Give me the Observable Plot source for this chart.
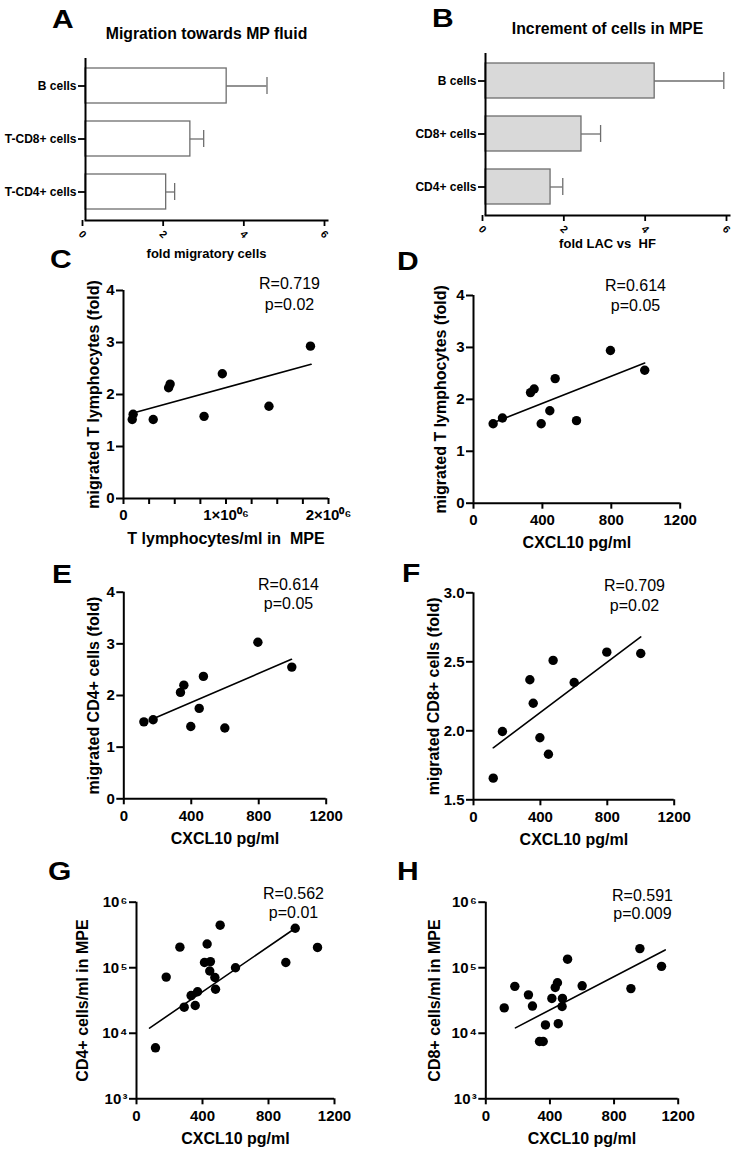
<!DOCTYPE html>
<html>
<head>
<meta charset="utf-8">
<script src="https://cdn.jsdelivr.net/npm/d3@7"></script>
<script src="https://cdn.jsdelivr.net/npm/@observablehq/plot@0.6"></script>
<style>
  body { margin: 0; background: white; }
  #fig { position: relative; width: 734px; height: 1149px; font-family: "Liberation Sans", Arial, sans-serif; }
  .panel { position: absolute; }
  .letter { position: absolute; font-size: 25px; line-height: 25px; font-weight: bold; transform: scaleX(1.2); transform-origin: left top; }
</style>
</head>
<body>
<div id="fig"></div>
<script>
// bar panels (A, B): mean and SEM
const cellsA = ["B cells", "T-CD8+ cells", "T-CD4+ cells"];
const meanA = [3.5, 2.6, 2.0];
const errA = [1.0, 0.33, 0.21];
const cellsB = ["B cells", "CD8+ cells", "CD4+ cells"];
const meanB = [4.16, 2.36, 1.6];
const errB = [1.7, 0.47, 0.3];
const barTicks = [0, 2, 4, 6];

// C: T lymphocytes/ml vs migrated T lymphocytes
const tcellsC = [85000, 94000, 290000, 440000, 455000, 786000, 964000, 1419000, 1824000];
const migTC = [1.52, 1.62, 1.52, 2.13, 2.2, 1.58, 2.40, 1.775, 2.93];
const fitXC = [85000, 1830000];
const fitYC = [1.64, 2.58];
const ticksC = [0, 250000, 500000, 750000, 1000000, 1250000, 1500000, 1750000, 2000000];
const tickLabelsC = {0: "0", 1000000: "1×10⁰⁶", 2000000: "2×10⁰⁶"};

// D: CXCL10 vs migrated T lymphocytes
const cxclD = [114, 168, 331, 352, 474, 393, 443, 598, 795, 994];
const migTD = [1.53, 1.64, 2.13, 2.20, 2.40, 1.53, 1.78, 1.59, 2.94, 2.56];
const fitXD = [114, 994];
const fitYD = [1.55, 2.70];

// E: CXCL10 vs migrated CD4+
const cxclE = [119, 174, 336, 356, 472, 447, 397, 599, 795, 996];
const migCD4E = [1.49, 1.53, 2.06, 2.20, 2.37, 1.75, 1.40, 1.37, 3.03, 2.55];
const fitXE = [174, 994];
const fitYE = [1.55, 2.70];

// F: CXCL10 vs migrated CD8+
const cxclF = [118, 173, 337, 357, 476, 397, 448, 602, 797, 1000];
const migCD8F = [1.657, 1.995, 2.37, 2.20, 2.51, 1.95, 1.83, 2.35, 2.57, 2.56];
const fitXF = [118, 1000];
const fitYF = [1.877, 2.68];

// G: CXCL10 vs CD4+ cells/ml
const cxclG = [115, 180, 263, 289, 331, 356, 370, 412, 428, 448, 444, 475, 479, 507, 600, 905, 962, 1097];
const cd4G = [6.0e3, 7.2e4, 2.06e5, 2.5e4, 3.76e4, 2.65e4, 4.3e4, 1.2e5, 2.3e5, 1.24e5, 8.9e4, 7.1e4, 4.7e4, 4.46e5, 1.0e5, 1.2e5, 4.0e5, 2.04e5];
const fitXG = [79, 962];
const fitYG = [1.2e4, 4.0e5];

// H: CXCL10 vs CD8+ cells/ml
const cxclH = [115, 181, 266, 291, 335, 358, 372, 412, 433, 447, 452, 478, 476, 510, 601, 905, 961, 1096];
const cd8H = [2.44e4, 5.2e4, 3.86e4, 2.6e4, 7.5e3, 7.5e3, 1.34e4, 3.4e4, 5.0e4, 5.9e4, 1.4e4, 3.4e4, 2.56e4, 1.35e5, 5.3e4, 4.8e4, 1.96e5, 1.05e5];
const fitXH = [185, 1119];
const fitYH = [1.21e4, 1.87e5];

const cxclTicks = [0, 400, 800, 1200];
const foldTicks = [0, 1, 2, 3, 4];
const cd8FoldTicks = [1.5, 2.0, 2.5, 3.0];
const logTicks = [1e3, 1e4, 1e5, 1e6];
const logTickLabels = ["10\u200a³", "10\u200a⁴", "10\u200a⁵", "10\u200a⁶"];

const font = "Liberation Sans, Arial, sans-serif";
const fig = document.getElementById("fig");

function place(chart, left, top) {
  const div = document.createElement("div");
  div.className = "panel";
  div.style.left = left + "px";
  div.style.top = top + "px";
  div.append(chart);
  fig.append(div);
}

function letter(txt, left, baseline) {
  const div = document.createElement("div");
  div.className = "letter";
  div.textContent = txt;
  div.style.left = left + "px";
  div.style.top = (baseline - 21) + "px";
  fig.append(div);
}

function margins(p) {
  return {
    width: p.width, height: p.height,
    marginLeft: p.frame[0] - p.left,
    marginRight: p.left + p.width - p.frame[1],
    marginTop: p.frame[2] - p.top,
    marginBottom: p.top + p.height - p.frame[3]
  };
}

function barPanel(p) {
  const rows = p.cats.map((c, i) => ({cat: c, mean: p.means[i], upper: p.means[i] + p.errs[i]}));
  return Plot.plot({
    ...margins(p),
    style: {fontFamily: font, background: "transparent", overflow: "visible", color: "black"},
    x: {domain: [0, 6]},
    y: {domain: p.cats, paddingInner: 0.333, paddingOuter: 0.167},
    marks: [
      Plot.barX(rows, {x: "mean", y: "cat", fill: p.fill, stroke: "#6e6e6e", strokeWidth: 1.3}),
      Plot.ruleY(rows, {x1: "mean", x2: "upper", y: "cat", stroke: "#6e6e6e", strokeWidth: 1.3}),
      Plot.tickX(rows, {x: "upper", y: "cat", stroke: "#6e6e6e", strokeWidth: 1.3, insetTop: 9, insetBottom: 9}),
      Plot.ruleX([0], {strokeWidth: 2}),
      Plot.frame({anchor: "bottom", strokeWidth: 2}),
      Plot.axisY({tickSize: 7, tickPadding: 2, fontSize: 12, fontWeight: "bold", strokeWidth: 1.8, label: null}),
      Plot.axisX({ticks: barTicks, tickFormat: d => String(d), tickSize: 6, tickRotate: 45, textAnchor: "middle",
        lineAnchor: "middle", tickPadding: 8, dx: -3, fontSize: 10.5, fontWeight: "bold", strokeWidth: 1.8, label: null}),
      Plot.text([p.title], {text: d => d, frameAnchor: "top", dy: -25, lineAnchor: "middle", fontSize: 15.8, fontWeight: "bold"}),
      Plot.text([p.xLabel], {text: d => d, frameAnchor: "bottom", dy: p.labelDy, lineAnchor: "middle", fontSize: 13, fontWeight: "bold"})
    ]
  });
}

function scatterPanel(p) {
  const pts = p.xs.map((x, i) => ({x, y: p.ys[i]}));
  const fit = p.fitX.map((x, i) => ({x, y: p.fitY[i]}));
  const [x0, , y0] = p.frame;
  return Plot.plot({
    ...margins(p),
    style: {fontFamily: font, background: "transparent", overflow: "visible", color: "black"},
    x: {domain: p.xDomain},
    y: {type: p.yType || "linear", domain: p.yDomain},
    marks: [
      Plot.ruleX([p.xDomain[0]], {strokeWidth: 2}),
      Plot.ruleY([p.yDomain[0]], {strokeWidth: 2}),
      Plot.axisX({ticks: p.xTicks, tickFormat: p.xFormat, tickSize: 6, tickPadding: 11, lineAnchor: "middle",
        fontSize: 15, fontWeight: "bold", strokeWidth: 2, label: null}),
      Plot.axisY({ticks: p.yTicks, tickFormat: p.yFormat, tickSize: 7, tickPadding: 2,
        fontSize: 15, fontWeight: "bold", strokeWidth: 2, label: null}),
      Plot.line(fit, {x: "x", y: "y", strokeWidth: 1.6}),
      Plot.dot(pts, {x: "x", y: "y", r: 4.7, fill: "black"}),
      Plot.text([p.stat[0]], {text: d => d, frameAnchor: "top-left", dx: p.statX - x0, dy: p.statY[0] - y0,
        textAnchor: "middle", lineAnchor: "middle", fontSize: 16}),
      Plot.text([p.stat[1]], {text: d => d, frameAnchor: "top-left", dx: p.statX - x0, dy: p.statY[1] - y0,
        textAnchor: "middle", lineAnchor: "middle", fontSize: 16}),
      Plot.text([p.xLabel], {text: d => d, frameAnchor: "bottom", dy: 40, lineAnchor: "middle", fontSize: 16, fontWeight: "bold"}),
      Plot.text([p.yLabel], {text: d => d, frameAnchor: "left", dx: p.yLabelX - x0, rotate: -90,
        textAnchor: "middle", lineAnchor: "middle", fontSize: 16, fontWeight: "bold"})
    ]
  });
}

const cxclFmt = d => String(d);
const foldFmt = d => String(d);
const logFmt = d => logTickLabels[logTicks.indexOf(d)];

place(barPanel({left: 0, top: 0, width: 367, height: 265, frame: [85, 327, 58, 220],
  cats: cellsA, means: meanA, errs: errA, fill: "white",
  title: "Migration towards MP fluid", xLabel: "fold migratory cells", labelDy: 33}), 0, 0);
place(barPanel({left: 367, top: 0, width: 367, height: 265, frame: [485, 729, 53, 215],
  cats: cellsB, means: meanB, errs: errB, fill: "#d9d9d9",
  title: "Increment of cells in MPE", xLabel: "fold LAC vs\u00a0 HF", labelDy: 28}), 367, 0);

place(scatterPanel({left: 0, top: 265, width: 367, height: 285, frame: [123, 328, 290, 498],
  xs: tcellsC, ys: migTC, fitX: fitXC, fitY: fitYC, xDomain: [0, 2000000], yDomain: [0, 4],
  xTicks: ticksC, xFormat: d => tickLabelsC[d] ?? "", yTicks: foldTicks, yFormat: foldFmt,
  stat: ["R=0.719", "p=0.02"], statX: 289, statY: [283, 304], yLabelX: 93,
  xLabel: "T lymphocytes/ml in\u00a0 MPE", yLabel: "migrated T lymphocytes (fold)"}), 0, 265);

place(scatterPanel({left: 367, top: 265, width: 367, height: 285, frame: [473, 679.7, 295, 502.7],
  xs: cxclD, ys: migTD, fitX: fitXD, fitY: fitYD, xDomain: [0, 1200], yDomain: [0, 4],
  xTicks: cxclTicks, xFormat: cxclFmt, yTicks: foldTicks, yFormat: foldFmt,
  stat: ["R=0.614", "p=0.05"], statX: 635, statY: [285, 305], yLabelX: 440,
  xLabel: "CXCL10 pg/ml", yLabel: "migrated T lymphocytes (fold)"}), 367, 265);

place(scatterPanel({left: 0, top: 560, width: 367, height: 290, frame: [123.3, 325.7, 591.7, 798.3],
  xs: cxclE, ys: migCD4E, fitX: fitXE, fitY: fitYE, xDomain: [0, 1200], yDomain: [0, 4],
  xTicks: cxclTicks, xFormat: cxclFmt, yTicks: foldTicks, yFormat: foldFmt,
  stat: ["R=0.614", "p=0.05"], statX: 288, statY: [584, 603], yLabelX: 93,
  xLabel: "CXCL10 pg/ml", yLabel: "migrated CD4+ cells (fold)"}), 0, 560);

place(scatterPanel({left: 367, top: 560, width: 367, height: 290, frame: [473, 673.7, 592.3, 799.3],
  xs: cxclF, ys: migCD8F, fitX: fitXF, fitY: fitYF, xDomain: [0, 1200], yDomain: [1.5, 3.0],
  xTicks: cxclTicks, xFormat: cxclFmt, yTicks: cd8FoldTicks, yFormat: d3.format(".1f"),
  stat: ["R=0.709", "p=0.02"], statX: 634, statY: [585, 605], yLabelX: 433,
  xLabel: "CXCL10 pg/ml", yLabel: "migrated CD8+ cells (fold)"}), 367, 560);

place(scatterPanel({left: 0, top: 870, width: 367, height: 279, frame: [136, 334, 901.7, 1098.3],
  xs: cxclG, ys: cd4G, fitX: fitXG, fitY: fitYG, xDomain: [0, 1200], yDomain: [1e3, 1e6], yType: "log",
  xTicks: cxclTicks, xFormat: cxclFmt, yTicks: logTicks, yFormat: logFmt,
  stat: ["R=0.562", "p=0.01"], statX: 293, statY: [893, 912], yLabelX: 82,
  xLabel: "CXCL10 pg/ml", yLabel: "CD4+ cells/ml in MPE"}), 0, 870);

place(scatterPanel({left: 367, top: 870, width: 367, height: 279, frame: [485.3, 677.7, 901.7, 1098.3],
  xs: cxclH, ys: cd8H, fitX: fitXH, fitY: fitYH, xDomain: [0, 1200], yDomain: [1e3, 1e6], yType: "log",
  xTicks: cxclTicks, xFormat: cxclFmt, yTicks: logTicks, yFormat: logFmt,
  stat: ["R=0.591", "p=0.009"], statX: 642, statY: [895, 913], yLabelX: 434,
  xLabel: "CXCL10 pg/ml", yLabel: "CD8+ cells/ml in MPE"}), 367, 870);

letter("A", 52, 28);
letter("B", 432, 27);
letter("C", 50, 268);
letter("D", 397, 270);
letter("E", 52, 583);
letter("F", 402, 582);
letter("G", 48, 880);
letter("H", 397, 880);
</script>
</body>
</html>
